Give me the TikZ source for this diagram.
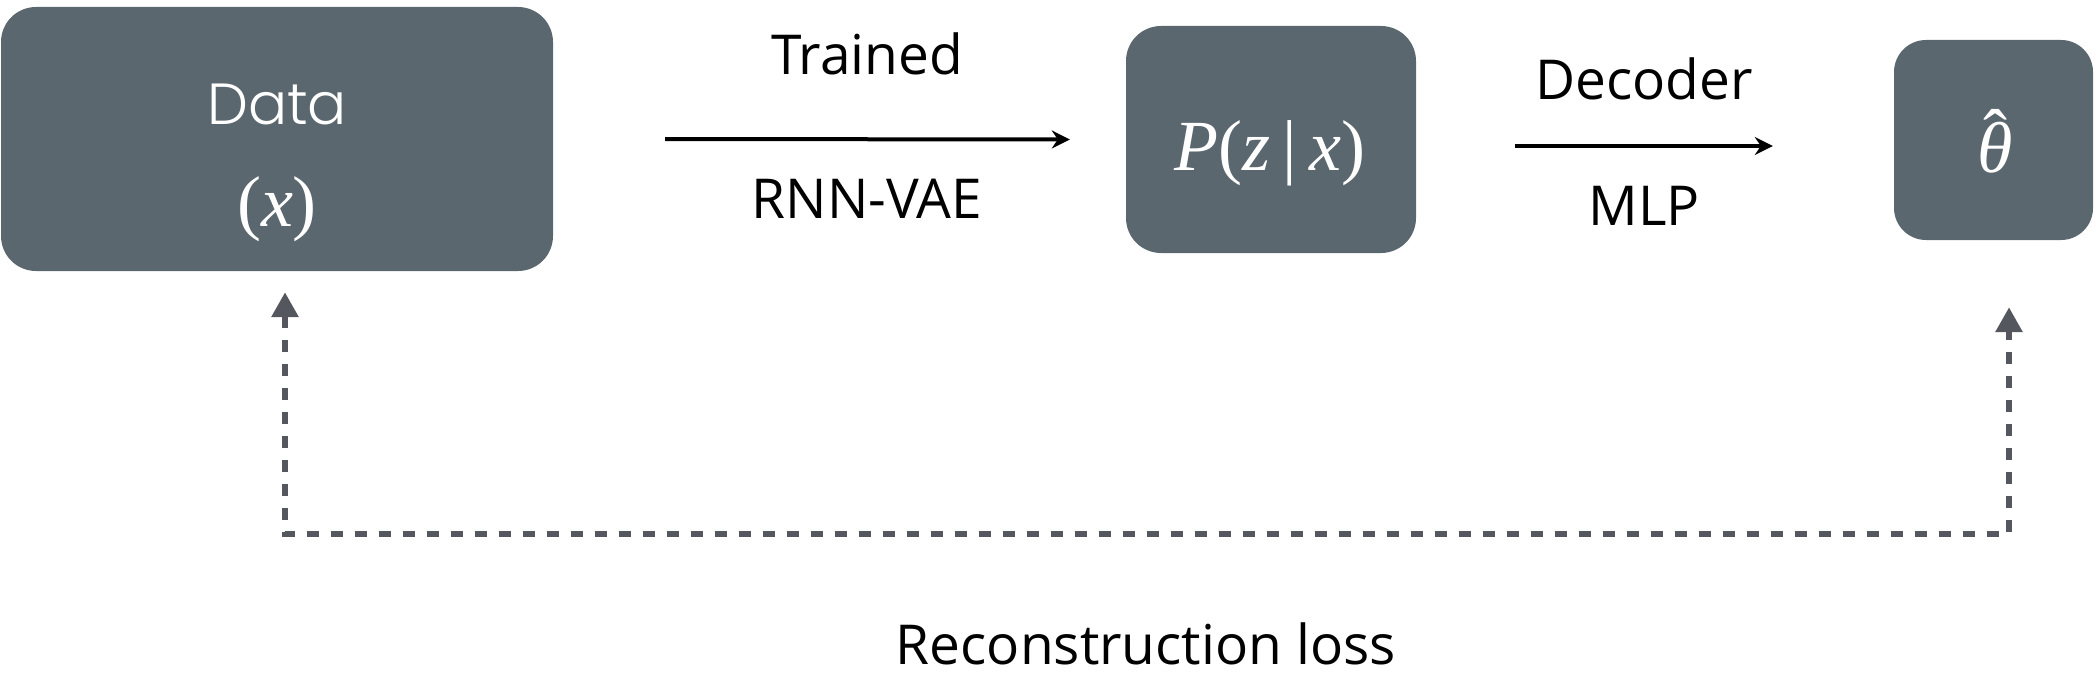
\documentclass[tikz,border=0pt]{standalone}
\usepackage{fontspec}
\usetikzlibrary{arrows.meta}
\setmainfont{Open Sans}
\newfontfamily\popfont{Poppins Light}
\newfontfamily\tmfont{Liberation Serif}
\newcommand\mvar[1]{{\tmfont\itshape #1}}
\newcommand\mpar[1]{{\tmfont #1}}
\definecolor{boxgray}{HTML}{5A676E}
\definecolor{lossgray}{HTML}{54585E}
\begin{document}
\begin{tikzpicture}[x=1pt,y=-1pt,
  box/.style={fill=boxgray, draw=none, rounded corners=35pt, inner sep=0pt},
  lbl/.style={anchor=base, inner sep=0pt, font=\fontsize{55}{60}\selectfont},
  intext/.style={anchor=base, inner sep=0pt, text=white},
  mathtext/.style={intext, font=\fontsize{72}{80}\selectfont},
  flow/.style={line width=4pt, -{Stealth[length=18pt,width=18pt,inset=6pt]}},
  loss/.style={line width=6pt, draw=lossgray, dash pattern=on 12pt off 12pt,
    {Triangle[length=25pt,width=26pt]}-{Triangle[length=25pt,width=26pt]}}
]
\useasboundingbox (0,0) rectangle (2096,690);
% boxes
\node[box, minimum width=552pt, minimum height=264pt] (data) at (277,139) {};
\node[box, minimum width=290pt, minimum height=227pt] (pz) at (1271,139.5) {};
\node[box, rounded corners=32pt, minimum width=199pt, minimum height=200pt] (theta) at (1993.5,140) {};
% texts in boxes
\node[intext, font=\popfont\fontsize{58}{70}\selectfont] (datalbl) at (277,125) {Data};
\node[mathtext] (xlbl) at (277,226) {\mpar{(}\mvar{x}\mpar{)}};
\node[mathtext] (pzlbl) at (1270,171) {\mvar{P}\mpar{(}\mvar{z}\,\mpar{|}\,\mvar{x}\mpar{)}};
\node[mathtext] (thetalbl) at (1995,172) {\tmfont\ooalign{\itshape θ\cr\hidewidth\raisebox{0.17em}{ˆ}\hidewidth\cr}};
% arrows
\draw[flow] ([xshift=112pt]data.east) -- ([xshift=-56pt]pz.west);
\draw[flow] ([xshift=99pt,yshift=-6.5pt]pz.east) -- ([xshift=-121pt,yshift=-6pt]theta.west);
% labels
\node[lbl] (trained) at (867,75) {Trained};
\node[lbl] (rnn) at (867,218) {RNN-VAE};
\node[lbl] (dec) at (1644,100) {Decoder};
\node[lbl] (mlp) at (1644,225) {MLP};
\node[lbl] (recon) at (1146,664) {Reconstruction loss};
% loss loop
\coordinate (lossturn) at (2009,534);
\draw[loss] ([xshift=8pt,yshift=-21pt]data.south) |- (lossturn) -- ([xshift=15.5pt,yshift=-67pt]theta.south);
\end{tikzpicture}
\end{document}
